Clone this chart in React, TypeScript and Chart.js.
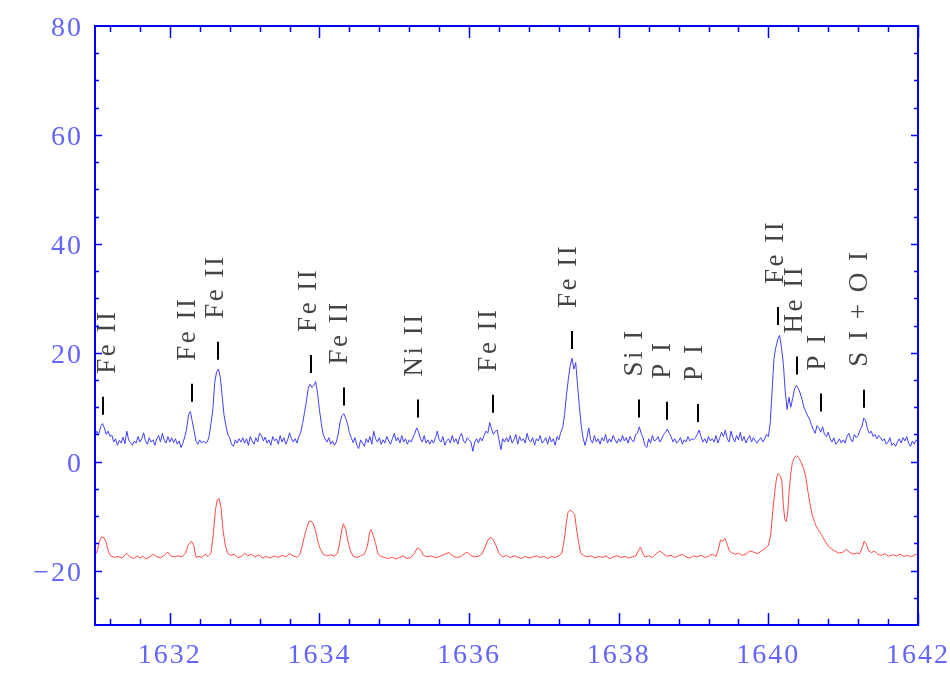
import React, { useEffect, useRef } from "react";
import { Chart, registerables } from "chart.js";
Chart.register(...registerables);

const waveMin = 1631;
const waveMax = 1642;
const fluxMin = -30;
const fluxMax = 80;
const xTickValues = [1632, 1634, 1636, 1638, 1640, 1642];
const yTickValues = [-20, 0, 20, 40, 60, 80];
const xMinorStep = 0.4;
const yMinorStep = 5;

// Blue spectrum, sampled every 0.025 Å starting at 1631.000
const blueStart = 1631.0;
const blueStep = 0.025;
const blueFlux = [
  4.8, 5.6, 5.0, 6.4, 7.0, 6.2, 5.0, 5.6, 4.6, 4.9, 3.6, 4.2, 3.0, 3.9, 3.4, 4.5, 3.3, 5.6, 4.0, 3.5,
  3.0, 3.8, 3.4, 4.6, 3.6, 4.2, 5.3, 3.8, 3.2, 4.4, 3.6, 4.0, 3.0, 4.2, 4.8, 3.6, 5.2, 4.0, 3.4, 4.6,
  3.6, 4.4, 3.5, 4.2, 3.2, 3.8, 2.6, 3.4, 4.6, 6.0, 8.6, 9.2, 7.4, 5.6, 3.8, 3.2, 4.0, 3.4, 3.8, 3.4,
  3.6, 4.6, 7.0, 9.5, 14.5, 16.5, 17.0, 15.5, 12.0, 8.5, 6.6, 5.0, 4.4, 3.2, 2.8, 4.0, 3.4, 4.2, 3.6, 4.4,
  3.4, 4.2, 3.0, 4.6, 3.8, 3.2, 4.4, 3.6, 5.2, 4.8, 3.8, 4.5, 3.4, 4.0, 3.0, 4.6, 3.8, 4.2, 3.2, 4.8,
  3.6, 4.4, 3.2, 4.0, 5.3, 4.2, 3.6, 4.2, 3.4, 4.6, 5.4, 7.0, 9.0, 11.0, 13.5, 14.2, 13.6, 14.0, 14.7, 12.5,
  9.5, 7.0, 5.0, 4.2, 3.6, 4.4, 3.2, 3.8, 3.0, 3.6, 5.0, 7.2, 8.4, 8.8, 8.0, 7.0, 5.3, 4.4, 3.5, 4.4,
  3.0, 2.4, 4.0, 3.4, 2.8, 4.2, 3.5, 4.6, 3.2, 5.6, 4.2, 3.6, 4.4, 3.2, 4.0, 3.4, 4.6, 3.8, 3.2, 4.2,
  5.2, 3.8, 4.4, 3.4, 4.8, 3.6, 4.2, 3.2, 4.0, 3.6, 4.4, 5.2, 6.2, 5.4, 4.2, 3.6, 4.8, 3.4, 4.0, 3.2,
  4.0, 3.4, 4.4, 5.6, 4.0, 3.6, 4.6, 3.0, 3.8, 4.2, 3.4, 4.8, 3.6, 4.2, 3.2, 4.6, 5.2, 3.8, 3.4, 4.4,
  4.0, 3.6, 1.9, 3.6, 4.2, 3.4, 4.4, 3.8, 4.8, 5.6, 5.2, 7.2, 6.0, 5.0, 5.6, 5.8, 4.0, 2.2, 4.2, 3.6,
  4.4, 3.6, 4.8, 3.4, 4.0, 5.0, 3.2, 4.6, 3.8, 4.2, 3.4, 5.2, 4.0, 3.6, 4.4, 3.0, 4.2, 3.8, 4.8, 3.4,
  3.8, 4.4, 3.2, 4.6, 3.6, 4.2, 3.0, 4.6, 4.0, 5.4, 6.2, 8.5, 12.0, 15.0, 17.5, 19.0, 17.0, 18.2, 14.0, 10.0,
  6.5, 4.2, 3.0, 4.4, 6.2, 4.0, 3.4, 4.8, 3.6, 4.2, 3.2, 4.4, 3.8, 5.0, 3.4, 4.2, 3.6, 4.8, 4.0, 3.4,
  4.2, 3.6, 4.8, 3.8, 4.4, 3.4, 4.6, 4.0, 3.6, 5.0, 5.2, 6.4, 5.2, 4.4, 3.0, 2.6, 4.2, 3.4, 4.8, 3.8,
  4.0, 4.6, 3.6, 4.2, 5.0, 5.4, 6.0, 5.2, 4.6, 3.6, 4.2, 3.4, 3.8, 4.4, 3.2, 4.0, 3.6, 4.6, 3.8, 4.2,
  4.0, 4.4, 5.0, 5.8, 4.6, 3.6, 4.2, 3.4, 4.6, 3.8, 4.2, 3.6, 4.8, 3.4, 4.4, 5.4, 4.6, 5.8, 4.2, 3.6,
  5.6, 4.4, 3.6, 4.8, 4.0, 5.4, 3.8, 4.6, 3.4, 4.2, 4.8, 3.6, 4.4, 3.8, 3.4, 4.0, 4.4, 3.6, 4.2, 5.0,
  4.6, 7.0, 13.0, 19.0, 21.0, 22.4, 23.2, 21.0, 18.0, 13.0, 9.6, 11.8, 10.0, 11.6, 13.4, 14.0, 13.4, 12.6, 11.4, 10.0,
  9.2, 8.4, 7.8, 6.8, 5.9, 5.2, 6.6, 6.2, 5.4, 6.4, 5.0, 4.6, 5.4, 4.2, 3.6, 4.4, 3.2, 3.6, 4.2, 3.4,
  4.0, 3.4, 4.6, 5.2, 4.2, 3.6, 5.0, 4.4, 4.8, 5.8, 6.4, 8.0, 7.6, 6.0, 5.2, 5.6, 4.6, 5.0, 4.2, 4.8,
  4.4, 3.8, 4.2, 3.2, 3.6, 4.4, 3.0, 3.4, 2.8, 3.6, 4.2, 3.4, 4.4, 3.8, 4.6, 3.4, 2.8, 3.8, 3.2, 4.0,
  3.6,
];

// Red (offset) spectrum
const redWave = [
  1631.00, 1631.03, 1631.06, 1631.09, 1631.12, 1631.15, 1631.18, 1631.21, 1631.26, 1631.31,
  1631.36, 1631.42, 1631.47, 1631.52, 1631.56, 1631.60, 1631.64, 1631.68, 1631.73, 1631.78,
  1631.83, 1631.88, 1631.93, 1631.97, 1632.01, 1632.06, 1632.11, 1632.16, 1632.21, 1632.25,
  1632.29, 1632.32, 1632.35, 1632.39, 1632.43, 1632.47, 1632.51, 1632.55, 1632.58, 1632.61,
  1632.635, 1632.66, 1632.685, 1632.71, 1632.74, 1632.77, 1632.81, 1632.86, 1632.91, 1632.96,
  1633.00, 1633.04, 1633.09, 1633.14, 1633.19, 1633.24, 1633.29, 1633.34, 1633.40, 1633.45,
  1633.50, 1633.55, 1633.60, 1633.65, 1633.70, 1633.74, 1633.78, 1633.82, 1633.86, 1633.89,
  1633.92, 1633.95, 1633.98, 1634.01, 1634.05, 1634.10, 1634.15, 1634.20, 1634.24, 1634.27,
  1634.30, 1634.32, 1634.35, 1634.38, 1634.41, 1634.45, 1634.50, 1634.55, 1634.60, 1634.64,
  1634.67, 1634.69, 1634.72, 1634.75, 1634.78, 1634.82, 1634.87, 1634.92, 1634.97, 1635.02,
  1635.07, 1635.12, 1635.17, 1635.22, 1635.27, 1635.31, 1635.35, 1635.39, 1635.44, 1635.49,
  1635.54, 1635.59, 1635.64, 1635.69, 1635.73, 1635.78, 1635.83, 1635.88, 1635.93, 1635.97,
  1636.02, 1636.07, 1636.12, 1636.17, 1636.21, 1636.25, 1636.29, 1636.32, 1636.36, 1636.40,
  1636.45, 1636.50, 1636.55, 1636.60, 1636.65, 1636.70, 1636.75, 1636.80, 1636.85, 1636.90,
  1636.95, 1637.00, 1637.05, 1637.10, 1637.15, 1637.20, 1637.24, 1637.27, 1637.30, 1637.32,
  1637.35, 1637.38, 1637.41, 1637.43, 1637.46, 1637.49, 1637.53, 1637.58, 1637.63, 1637.68,
  1637.73, 1637.78, 1637.83, 1637.88, 1637.93, 1637.98, 1638.03, 1638.08, 1638.13, 1638.18,
  1638.23, 1638.26, 1638.29, 1638.32, 1638.35, 1638.40, 1638.45, 1638.50, 1638.55, 1638.60,
  1638.65, 1638.70, 1638.75, 1638.80, 1638.85, 1638.90, 1638.95, 1639.00, 1639.05, 1639.10,
  1639.15, 1639.20, 1639.25, 1639.30, 1639.33, 1639.36, 1639.39, 1639.42, 1639.45, 1639.48,
  1639.52, 1639.56, 1639.60, 1639.65, 1639.70, 1639.75, 1639.80, 1639.85, 1639.90, 1639.95,
  1640.00, 1640.03, 1640.06, 1640.09, 1640.11, 1640.13, 1640.16, 1640.18, 1640.20, 1640.22,
  1640.24, 1640.26, 1640.28, 1640.30, 1640.32, 1640.35, 1640.38, 1640.41, 1640.44, 1640.47,
  1640.50, 1640.53, 1640.56, 1640.59, 1640.62, 1640.65, 1640.68, 1640.71, 1640.75, 1640.80,
  1640.85, 1640.90, 1640.95, 1641.00, 1641.04, 1641.08, 1641.13, 1641.18, 1641.22, 1641.26,
  1641.28, 1641.31, 1641.34, 1641.38, 1641.42, 1641.46, 1641.51, 1641.56, 1641.61, 1641.66,
  1641.71, 1641.76, 1641.81, 1641.86, 1641.91, 1641.96, 1642.00,
];
const redFlux = [
  -17.2, -16.4, -14.6, -13.8, -14.0, -14.8, -16.6, -17.3, -17.6, -17.4,
  -17.7, -16.8, -17.5, -17.8, -17.3, -17.7, -17.4, -17.9, -17.5, -17.0,
  -17.5, -17.6, -17.2, -16.6, -17.3, -17.5, -17.3, -17.5, -16.8, -15.2,
  -14.6, -15.4, -17.6, -17.4, -17.6, -17.0, -17.4, -16.8, -13.5, -8.8,
  -7.0, -6.8, -8.5, -12.5, -15.2, -16.8, -17.2, -17.0, -17.6, -17.4,
  -16.8, -17.3, -17.0, -17.5, -17.1, -17.7, -17.4, -17.7, -17.3, -17.6,
  -17.2, -17.5, -16.9, -17.3, -17.6, -17.0, -14.8, -12.6, -11.0, -10.9,
  -11.5, -12.8, -14.8, -16.0, -17.0, -17.3, -17.1, -17.4, -16.8, -15.0,
  -12.4, -11.4, -12.4, -14.6, -16.2, -17.4, -17.6, -17.3, -17.0, -15.6,
  -13.0, -12.5, -13.6, -15.0, -16.9, -17.4, -17.6, -17.8, -17.5, -17.9,
  -17.6, -17.3, -17.8, -17.6, -16.8, -15.8, -16.2, -17.2, -17.5, -17.3,
  -17.6, -17.5, -17.2, -16.9, -16.7, -17.3, -17.6, -17.5, -17.0, -16.6,
  -17.2, -17.5, -17.4, -17.0, -15.8, -14.4, -13.9, -14.3, -15.4, -16.9,
  -17.5, -17.2, -17.6, -17.3, -17.5, -17.8, -17.4, -17.7, -17.5, -17.3,
  -17.6, -17.4, -17.8, -17.4, -17.6, -17.3, -16.8, -14.5, -11.2, -9.4,
  -8.9, -9.2, -9.6, -11.8, -14.5, -16.8, -17.2, -17.5, -17.3, -17.7,
  -17.4, -17.6, -17.3, -17.8, -17.5, -17.3, -17.6, -17.4, -17.7, -17.5,
  -17.3, -16.4, -15.7, -16.8, -17.5, -17.3, -17.6, -16.9, -16.4, -17.0,
  -17.4, -17.2, -17.6, -17.3, -17.0, -17.5, -17.7, -17.3, -17.5, -17.2,
  -17.6, -17.4, -17.0, -17.4, -16.2, -14.4, -14.6, -14.1, -15.2, -16.4,
  -16.8, -17.0, -16.8, -17.2, -17.0, -16.4, -16.6, -16.9, -16.5, -16.0,
  -15.4, -13.5, -9.0, -5.0, -3.0, -2.2, -2.6, -3.6, -8.0, -10.6,
  -11.0, -9.2, -5.0, -2.2, -0.2, 0.8, 1.1, 0.6, -0.2, -1.2,
  -2.8, -5.6, -8.0, -10.0, -11.2, -12.2, -12.8, -13.4, -14.4, -15.5,
  -16.1, -16.5, -16.8, -16.6, -16.1, -16.6, -17.0, -16.8, -16.9, -15.6,
  -14.6, -15.2, -16.4, -16.7, -16.4, -17.0, -17.2, -16.9, -17.4, -17.1,
  -17.3, -17.0, -17.4, -17.2, -17.5, -17.1, -17.0,
];

// Line identifications
const lineNames = ["Fe II", "Fe II", "Fe II", "Fe II", "Fe II", "Ni II", "Fe II", "Fe II", "Si I", "P I", "P I", "Fe II", "He II", "P I", "S I + O I"];
const lineWave = [1631.107, 1632.29, 1632.65, 1633.89, 1634.33, 1635.32, 1636.32, 1637.38, 1638.27, 1638.64, 1639.06, 1640.13, 1640.38, 1640.70, 1641.28];
const lineLevel = [8.6, 11.0, 18.7, 16.3, 10.3, 8.1, 9.0, 20.7, 8.1, 7.7, 7.3, 25.1, 16.0, 9.2, 9.9];
const labelWave = [1631.147, 1632.22, 1632.587, 1633.827, 1634.253, 1635.253, 1636.24, 1637.313, 1638.187, 1638.567, 1638.987, 1640.08, 1640.333, 1640.633, 1641.2];

const AXIS_BLUE = "#0000ff";
const LABEL_BLUE = "#6464ff";

const decorPlugin = {
  id: "decor",
  beforeDraw(chart: any) {
    chart.ctx.letterSpacing = "2px";
  },
  afterDatasetsDraw(chart: any) {
    const { ctx, chartArea: a, scales } = chart;
    const xs = scales.x;
    const ys = scales.y;
    ctx.save();
    ctx.letterSpacing = "0px";
    // line identification marks and labels
    lineNames.forEach((name, i) => {
      const px = Math.round(xs.getPixelForValue(lineWave[i]));
      const yb = ys.getPixelForValue(lineLevel[i]);
      ctx.strokeStyle = "#000000";
      ctx.lineWidth = 2;
      ctx.beginPath();
      ctx.moveTo(px, yb);
      ctx.lineTo(px, yb - 18);
      ctx.stroke();
      const tx = xs.getPixelForValue(labelWave[i]);
      ctx.save();
      ctx.translate(tx + 9, yb - 18 - 23);
      ctx.rotate(-Math.PI / 2);
      ctx.font = "27px 'Liberation Serif'";
      ctx.letterSpacing = "2.5px";
      ctx.fillStyle = "#444444";
      ctx.textAlign = "left";
      ctx.textBaseline = "alphabetic";
      ctx.fillText(name, 0, 0);
      ctx.restore();
    });
    // frame
    ctx.strokeStyle = AXIS_BLUE;
    ctx.lineWidth = 2;
    ctx.strokeRect(a.left, a.top, a.right - a.left, a.bottom - a.top);
    // ticks (inward)
    ctx.lineWidth = 1.5;
    ctx.beginPath();
    for (let v = waveMin + xMinorStep / 2; v <= waveMax + 1e-6; v += xMinorStep) {
      const isMajor = xTickValues.some((t) => Math.abs(t - v) < 1e-6);
      const len = isMajor ? 12 : 6;
      const px = Math.round(xs.getPixelForValue(v)) + 0.5;
      ctx.moveTo(px, a.bottom);
      ctx.lineTo(px, a.bottom - len);
      ctx.moveTo(px, a.top);
      ctx.lineTo(px, a.top + len);
    }
    for (let v = fluxMin + yMinorStep; v < fluxMax; v += yMinorStep) {
      const isMajor = yTickValues.includes(v);
      const len = isMajor ? 7 : 4;
      const py = Math.round(ys.getPixelForValue(v)) + 0.5;
      ctx.moveTo(a.left, py);
      ctx.lineTo(a.left + len, py);
      ctx.moveTo(a.right, py);
      ctx.lineTo(a.right - len, py);
    }
    ctx.stroke();
    ctx.restore();
  },
};

export default function App() {
  const canvasRef = useRef<HTMLCanvasElement | null>(null);

  useEffect(() => {
    const canvas = canvasRef.current;
    if (!canvas) return;
    const blueData = blueFlux.map((v, i) => ({ x: blueStart + i * blueStep, y: v }));
    const redData = redWave.map((w, i) => ({ x: w, y: redFlux[i] }));
    const tickFont = { family: "'Liberation Serif'", size: 28 };
    const chart = new Chart(canvas, {
      type: "line",
      data: {
        datasets: [
          {
            data: blueData,
            borderColor: "#4040ff",
            borderWidth: 1,
            pointRadius: 0,
            tension: 0,
          },
          {
            data: redData,
            borderColor: "#ff4a4a",
            borderWidth: 1,
            pointRadius: 0,
            tension: 0,
          },
        ],
      },
      options: {
        responsive: false,
        animation: false,
        devicePixelRatio: 1,
        layout: { padding: { top: 26, right: 32, left: 0, bottom: 0 } },
        plugins: { legend: { display: false }, tooltip: { enabled: false } },
        scales: {
          x: {
            type: "linear",
            position: "bottom",
            min: waveMin,
            max: waveMax,
            grid: { display: false, drawTicks: false },
            border: { display: false },
            ticks: {
              color: LABEL_BLUE,
              font: tickFont,
              padding: 14,
              maxRotation: 0,
              autoSkip: false,
              callback: (v: any) => String(v),
            },
            afterBuildTicks: (s: any) => {
              s.ticks = xTickValues.map((v) => ({ value: v }));
            },
            afterFit: (s: any) => {
              s.height = 75;
              s.paddingLeft = 0;
              s.paddingRight = 0;
            },
          },
          y: {
            type: "linear",
            position: "left",
            min: fluxMin,
            max: fluxMax,
            grid: { display: false, drawTicks: false },
            border: { display: false },
            ticks: {
              color: LABEL_BLUE,
              font: tickFont,
              padding: 12,
              labelOffset: 3,
              autoSkip: false,
              callback: (v: any) => (Number(v) < 0 ? "\u2212" + Math.abs(Number(v)) : String(v)),
            },
            afterBuildTicks: (s: any) => {
              s.ticks = yTickValues.map((v) => ({ value: v }));
            },
            afterFit: (s: any) => {
              s.width = 95;
              s.paddingTop = 0;
              s.paddingBottom = 0;
            },
          },
        },
      },
      plugins: [decorPlugin],
    });
    return () => chart.destroy();
  }, []);

  return (
    <div style={{ position: "fixed", left: 0, top: 0, width: 950, height: 700, background: "#ffffff" }}>
      <canvas ref={canvasRef} width={950} height={700} />
    </div>
  );
}
